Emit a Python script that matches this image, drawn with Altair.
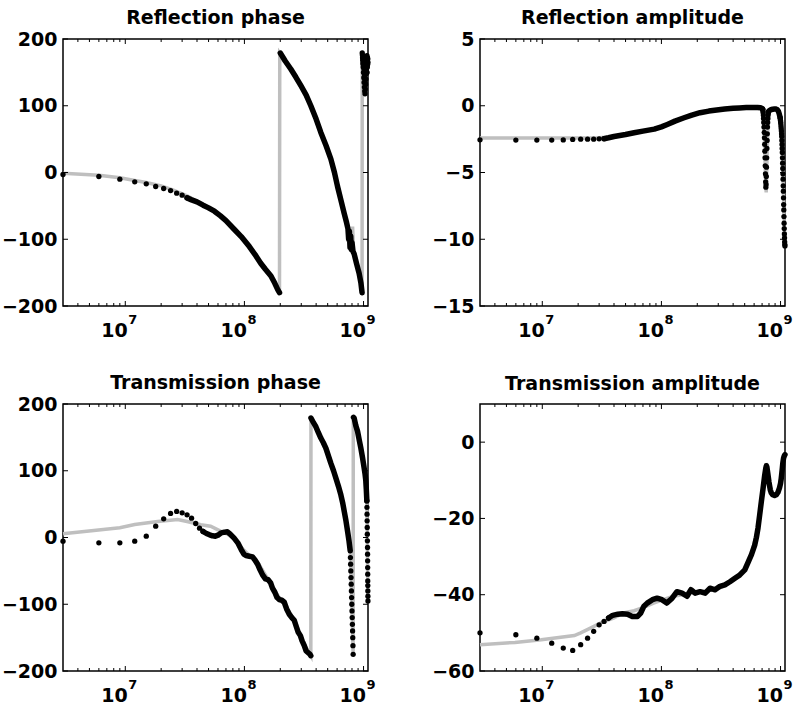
import altair as alt
import pandas as pd

FONT = "DejaVu Sans"
XDOM = [3e6, 1.09e9]
MAJOR = [1e7, 1e8, 1e9]
EXPON = ["7", "8", "9"]
MINOR = [4e6, 5e6, 6e6, 7e6, 8e6, 9e6,
         2e7, 3e7, 4e7, 5e7, 6e7, 7e7, 8e7, 9e7,
         2e8, 3e8, 4e8, 5e8, 6e8, 7e8, 8e8, 9e8]

# ---------------- Reflection phase (deg), frequencies in MHz ----------------
tl_model_f = [3, 6, 9, 12, 15, 20, 25, 33, 40, 50, 63, 82, 100, 137, 167, 197, 198, 245, 298, 361,
              438, 532, 605, 687, 757, 790, 809, 825, 918, 972, 975, 1000, 1040, 1089]
tl_model_v = [-1, -4, -8, -12, -15, -20, -26, -35, -43, -52, -64, -84, -101, -135, -155, -180, 179, 155, 130, 100,
              60, 20, -21, -61, -91, -100, -81, -118, -151, -180, 180, 176, 172, 170]
tl_band_f = [[33, 36, 40, 45, 50, 56, 63, 70, 82, 94, 110, 125, 137, 150, 167, 180, 190, 197],
             [200, 220, 245, 270, 298, 330, 361, 400, 438, 485, 532, 570, 605, 645, 687, 720, 740, 750,
              760, 770, 780, 790, 800, 815, 834, 875, 918, 950, 972]]
tl_band_v = [[-38, -41, -44, -49, -53, -58, -65, -72, -85, -96, -111, -125, -136, -145, -155, -166, -175, -180],
             [179, 167, 155, 143, 130, 116, 100, 80, 60, 40, 20, 0, -21, -41, -61, -75, -84, -100,
              -88, -112, -95, -115, -105, -118, -122, -137, -151, -165, -180]]
tl_dot_f = [3, 6, 9, 12, 15, 18, 21, 24, 27, 30, 33,
            975, 978, 981, 984, 987, 990, 993, 996, 999, 1002, 1005, 1008, 1011, 1014, 1017, 1020, 1023,
            1026, 1029, 1032, 1035, 1038, 1041, 1044, 1047, 1050, 1053, 1056, 1059, 1062, 1065, 1068,
            1071, 1074, 1077, 1080, 1083, 1086, 1089]
tl_dot_v = [-3, -6, -10, -14, -17, -21, -24, -27, -31, -34, -38,
            179, 176, 172, 168, 163, 170, 158, 165, 150, 160, 142, 155, 135, 150, 128, 145, 122,
            140, 118, 135, 125, 150, 132, 160, 140, 168, 148, 172, 155, 170, 160, 175,
            150, 168, 158, 172, 162, 170, 165]

# ---------------- Reflection amplitude (dB) ----------------
tr_model_f = [3, 10, 20, 30, 40, 50, 59, 70, 87, 112, 155, 211, 291, 400, 515, 668, 708, 720, 735, 750,
              758, 770, 785, 800, 830, 918, 960, 990, 1020, 1050, 1070, 1089]
tr_model_v = [-2.42, -2.42, -2.42, -2.4, -2.3, -2.15, -2.02, -1.9, -1.75, -1.4, -0.9, -0.52, -0.32, -0.19,
              -0.14, -0.14, -0.25, -0.95, -2.9, -5.7, -6.5, -4.0, -1.5, -0.5, -0.3, -0.25, -0.4, -0.9,
              -2.2, -5.5, -8.5, -10.5]
tr_band_f = [[33, 36, 40, 50, 59, 70, 87, 100, 112, 130, 155, 180, 211, 250, 291, 340, 400, 450, 515, 580,
              640, 680, 700, 708],
             [792, 810, 830, 860, 890, 918, 940, 960, 975, 993]]
tr_band_v = [[-2.47, -2.4, -2.3, -2.15, -2.02, -1.9, -1.75, -1.58, -1.4, -1.15, -0.9, -0.7, -0.52, -0.4,
              -0.32, -0.25, -0.19, -0.16, -0.14, -0.13, -0.13, -0.15, -0.2, -0.25],
             [-0.45, -0.35, -0.3, -0.26, -0.24, -0.25, -0.3, -0.42, -0.6, -0.9]]
tr_dot_f = [3, 6, 9, 12, 15, 18, 21, 24, 27, 30, 33,
            708, 711, 714, 717, 720, 723, 726, 729, 732, 735, 738, 741, 744, 747, 750, 753, 756, 759,
            762, 765, 768, 771, 774, 777, 780, 783, 786, 789, 792,
            993, 996, 999, 1002, 1005, 1008, 1011, 1014, 1017, 1020, 1023, 1026, 1029, 1032, 1035,
            1038, 1041, 1044, 1047, 1050, 1053, 1056, 1059, 1062, 1065, 1068, 1071, 1074, 1077,
            1080, 1083, 1086, 1089]
tr_dot_v = [-2.55, -2.57, -2.57, -2.57, -2.56, -2.52, -2.5, -2.5, -2.5, -2.48, -2.47,
            -0.25, -0.35, -0.5, -0.7, -0.95, -1.25, -1.6, -2.0, -2.4, -2.9, -3.4, -3.9, -4.5, -5.1,
            -5.7, -6.1, -5.9, -5.3, -4.6, -3.9, -3.2, -2.6, -2.1, -1.6, -1.25, -0.95, -0.7, -0.55, -0.45,
            -0.9, -1.0, -1.1, -1.2, -1.3, -1.45, -1.6, -1.75, -1.9, -2.1, -2.3, -2.6, -2.9, -3.2, -3.5,
            -3.9, -4.3, -4.7, -5.1, -5.5, -6.0, -6.4, -6.9, -7.4, -7.8, -8.3, -8.8, -9.2, -9.6,
            -9.9, -10.2, -10.4, -10.5]

# ---------------- Transmission phase (deg) ----------------
bl_model_f = [3, 9, 12, 18.7, 27.5, 33, 43, 52, 63, 72, 82, 94, 110, 129, 150, 178, 196, 216, 250, 283,
              330, 361, 362, 438, 532, 645, 735, 773, 800, 818, 820, 834, 891, 949, 1012, 1066, 1089]
bl_model_v = [5.5, 14.5, 19.4, 24, 27, 24, 19, 17, 9.5, 5, -2, -15, -27, -37, -56, -78, -90, -97, -118, -140,
              -165, -177, 178, 149, 111, 64, 9, -20, -110, -177, 179, 176, 159, 134, 104, 55, -95]
bl_band_f = [[45, 48, 51, 54, 57, 60, 64, 68, 72, 76, 82, 88, 94, 99, 103, 110, 117, 123, 129, 135,
              142, 150, 158, 166, 172, 180, 188, 196, 206, 216, 226, 238, 250, 262, 272, 283, 295, 305,
              318, 330, 345, 355, 361],
             [362, 380, 398, 418, 438, 460, 483, 508, 532, 560, 586, 615, 645, 668, 689, 712, 735, 755, 773],
             [824, 834, 860, 891, 920, 949, 980, 1012, 1030, 1045, 1055, 1066]]
bl_band_v = [[9, 6, 4, 2.5, 2, 3.5, 7, 8, 8.5, 5, -1, -8, -18, -25, -27, -28, -29, -34, -40, -48,
              -56, -62, -63, -68, -76, -82, -90, -93, -94, -97, -107, -115, -120, -124, -133, -142, -147, -155,
              -162, -170, -173, -175, -177],
             [179, 172, 166, 157, 149, 142, 134, 122, 111, 100, 89, 77, 64, 52, 39, 25, 9, -5, -20],
             [180, 179, 168, 159, 146, 134, 120, 104, 95, 85, 72, 55]]
bl_dot_f = [3, 6, 9, 12, 15, 18, 21, 24, 27, 30, 33, 36, 39, 42, 45,
            776, 779, 782, 785, 788, 791, 794, 797, 800, 803, 806, 809, 812, 815, 818,
            1066, 1068, 1070, 1072, 1074, 1076, 1078, 1080, 1081, 1082, 1083, 1084, 1085, 1086, 1087,
            1088, 1089]
bl_dot_v = [-5.5, -8, -8, -5.5, 2, 17, 28, 36, 39, 37, 34, 29, 21, 14, 9,
            -30, -40, -50, -60, -70, -80, -90, -100, -110, -120, -130, -140, -150, -162, -175,
            55, 45, 35, 25, 15, 5, -5, -15, -25, -35, -45, -55, -65, -72, -80, -88, -95]

# ---------------- Transmission amplitude (dB) ----------------
br_model_f = [3, 5.9, 9.8, 18.6, 21, 25.6, 31, 40, 48, 59, 71, 86, 108, 123, 149, 177, 211, 256, 310, 376,
              455, 501, 570, 647, 713, 760, 768, 800, 860, 920, 980, 1045, 1089]
br_model_v = [-53.1, -52.5, -51.8, -50.7, -50, -48.7, -47.4, -46.1, -44.8, -44.2, -43.3, -42.2, -41.1, -40.5,
              -40, -39.5, -39.3, -38.8, -38.2, -36.7, -35, -33.5, -29.3, -22.5, -12.2, -5.5, -6.2, -10.5,
              -13.8, -13.8, -12, -5.5, -3.3]
br_band_f = [[36, 39, 43, 47, 52, 57, 63, 67, 71, 76, 84, 92, 101, 111, 123, 135, 149, 164, 177, 192,
              211, 233, 256, 282, 310, 341, 376, 414, 455, 501, 534, 570, 607, 627, 647, 668, 690, 713,
              736, 752, 760, 768, 780, 800, 820, 836, 860, 891, 920, 950, 980, 1000, 1013, 1030, 1045,
              1060, 1075, 1089]]
br_band_v = [[-46.1, -45.4, -45.1, -45.0, -45.1, -45.7, -45.7, -44.8, -43.1, -42.2, -41.3, -40.9, -41.3,
              -42.2, -40.9, -39.2, -39.6, -40.4, -38.7, -39.6, -39.2, -39.6, -38.3, -38.7, -37.8, -37.4,
              -36.6, -35.7, -34.8, -33.5, -31.5, -29.5, -27, -25, -22.5, -19.1, -15.6, -12.2, -8.7, -6.8,
              -6.2, -6.5, -8, -10.5, -12.5, -13.3, -13.8, -14, -13.8, -13.2, -12, -10.8, -9.6, -7.5, -5.5,
              -4.2, -3.6, -3.3]]
br_dot_f = [3, 6, 9, 12, 15, 18, 21, 24, 27, 30, 33, 36]
br_dot_v = [-50.0, -50.5, -51.4, -52.7, -54.0, -54.6, -53.1, -51.4, -49.6, -47.9, -47.0, -46.1]

W, H = 305, 267


def panel(title, model_f, model_v, band_f, band_v, dot_f, dot_v, ydom, yvals, toff):
    mdf = pd.DataFrame({"f": [a * 1e6 for a in model_f], "v": model_v})
    rows = []
    for s, (fs, vs) in enumerate(zip(band_f, band_v)):
        for a, b in zip(fs, vs):
            rows.append({"f": a * 1e6, "v": b, "seg": s})
    bdf = pd.DataFrame(rows)
    ddf = pd.DataFrame({"f": [a * 1e6 for a in dot_f], "v": dot_v})

    xs = alt.Scale(type="log", domain=XDOM, nice=False)
    ys = alt.Scale(domain=ydom, nice=False, zero=False)
    xenc = alt.X("f:Q", scale=xs,
                 axis=alt.Axis(values=MAJOR, labelExpr="'10'", title=None, labelAlign="right",
                               labelOffset=2, labelPadding=15, labelFlush=False, labelOverlap=False))
    yenc = alt.Y("v:Q", scale=ys,
                 axis=alt.Axis(values=yvals, title=None, labelPadding=6, labelFlush=False,
                               labelOverlap=False))

    model = alt.Chart(mdf).mark_line(color="#bfbfbf", strokeWidth=3.5).encode(x=xenc, y=yenc)
    band = alt.Chart(bdf).mark_line(color="black", strokeWidth=5.5, strokeCap="round",
                                    strokeJoin="round").encode(x=xenc, y=yenc, detail="seg:N")
    dots = alt.Chart(ddf).mark_circle(color="black", size=28, opacity=1).encode(x=xenc, y=yenc)

    majdf = pd.DataFrame({"f": MAJOR, "e": EXPON})
    mindf = pd.DataFrame({"f": MINOR})
    ytdf = pd.DataFrame({"v": yvals})
    rule = dict(color="black", strokeWidth=1)
    xb_maj = alt.Chart(majdf).mark_rule(**rule).encode(x=xenc, y=alt.value(H), y2=alt.value(H - 5))
    xt_maj = alt.Chart(majdf).mark_rule(**rule).encode(x=xenc, y=alt.value(0), y2=alt.value(5))
    xb_min = alt.Chart(mindf).mark_rule(**rule).encode(x=xenc, y=alt.value(H), y2=alt.value(H - 3))
    xt_min = alt.Chart(mindf).mark_rule(**rule).encode(x=xenc, y=alt.value(0), y2=alt.value(3))
    yl = alt.Chart(ytdf).mark_rule(**rule).encode(y=yenc, x=alt.value(0), x2=alt.value(5))
    yr = alt.Chart(ytdf).mark_rule(**rule).encode(y=yenc, x=alt.value(W), x2=alt.value(W - 5))
    expo = alt.Chart(majdf).mark_text(align="left", baseline="top", fontSize=13, fontWeight="bold",
                                      font=FONT, color="black", dx=3).encode(
        x=xenc, y=alt.value(H + 8), text="e:N")

    return alt.layer(model, band, dots, xb_maj, xt_maj, xb_min, xt_min, yl, yr, expo).properties(
        width=W, height=H,
        title=alt.TitleParams(title, fontSize=19, font=FONT, fontWeight="bold", color="black",
                              offset=toff, anchor="middle"))


tl = panel("Reflection phase", tl_model_f, tl_model_v, tl_band_f, tl_band_v, tl_dot_f, tl_dot_v,
           [-200, 200], [-200, -100, 0, 100, 200], 2)
tr = panel("Reflection amplitude", tr_model_f, tr_model_v, tr_band_f, tr_band_v, tr_dot_f, tr_dot_v,
           [-15, 5], [-15, -10, -5, 0, 5], 2)
bl = panel("Transmission  phase", bl_model_f, bl_model_v, bl_band_f, bl_band_v, bl_dot_f, bl_dot_v,
           [-200, 200], [-200, -100, 0, 100, 200], 2)
br = panel("Transmission amplitude", br_model_f, br_model_v, br_band_f, br_band_v, br_dot_f, br_dot_v,
           [-60, 10], [-60, -40, -20, 0], 10)

chart = alt.concat(tl, tr, bl, br, columns=2, spacing={"row": 98, "column": 112},
                   bounds="flush").configure_view(
    stroke="black", strokeWidth=1.5
).configure_axis(
    domain=False, ticks=False, grid=False, labelFont=FONT, labelFontWeight="bold",
    labelFontSize=19, labelColor="black"
).properties(
    padding={"left": 0, "top": 8, "right": 0, "bottom": 0}, background="white"
)

chart.save("out.html", embed_options={"renderer": "svg", "actions": False})
